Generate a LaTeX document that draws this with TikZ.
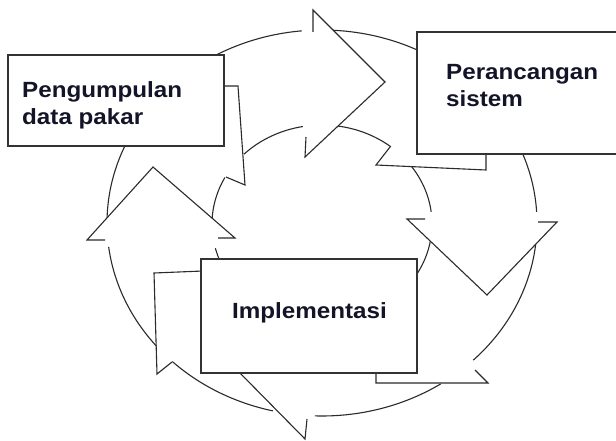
\documentclass[tikz,border=0pt]{standalone}
\usepackage{fontspec}
\newfontfamily\labfont[FakeStretch=1.1]{Liberation Sans}
\definecolor{linec}{HTML}{2B2B2B}
\definecolor{boxc}{HTML}{333333}
\definecolor{txtc}{HTML}{141428}
\tikzset{
  ring/.style={draw=linec, line width=1.1pt},
  boxs/.style={draw=boxc, line width=1.6pt, fill=white, inner sep=0pt, outer sep=0pt, anchor=north west},
  lab/.style={anchor=base west, inner sep=0pt, font=\labfont\bfseries\fontsize{22}{26}\selectfont, text=txtc},
}
\newcommand\oarc[2]{\draw[ring] plot[domain=#1:#2, samples=40] ({322+215*cos(\x)},{223+193*sin(\x)});}
\newcommand\iarc[2]{\draw[ring] plot[domain=#1:#2, samples=40] ({322+110*cos(\x)},{224+99*sin(\x)});}
\begin{document}
\begin{tikzpicture}[x=1pt,y=-1pt]
\useasboundingbox (0,0) rectangle (616,441);
\fill[white] (0,0) rectangle (616,441);
% outer ring arcs
\oarc{-120}{-95.4}
\oarc{-90}{-60}
\oarc{-25}{-3.3}
\oarc{3}{45.3}
\oarc{56.5}{91.9}
\oarc{103.2}{134.1}
\oarc{140.3}{172.9}
\oarc{178}{206}
% inner ring arcs
\iarc{-135.1}{-100}
\iarc{-85}{-51.2}
\iarc{-35.7}{-7}
\iarc{5}{30}
\iarc{155}{165.8}
\iarc{178}{208}
% top arrowhead (pointing right)
\fill[white] (313,32)--(313,10)--(385,82)--(305,157)--(306,137)--cycle;
\draw[ring] (313,32)--(313,10)--(385,82)--(305,157)--(306,137);
% right arrowhead (pointing down)
\fill[white] (425,219)--(407,219)--(487,295)--(557,222)--(538,222)--cycle;
\draw[ring] (425,219)--(407,219)--(487,295)--(557,222)--(538,222);
% left arrowhead (pointing up)
\fill[white] (105,240)--(87,240)--(153,167)--(235,238)--(218,238)--cycle;
\draw[ring] (105,240)--(87,240)--(153,167)--(235,238)--(218,238);
% bottom arrow piece
\draw[ring] (238,371)--(305,439)--(307,419);
% box tabs
\draw[ring] (222,86)--(238,86)--(245,185)--(226,177);
\draw[ring] (486,152)--(486,170)--(376,165)--(390,147);
\draw[ring] (203,271)--(154,273)--(157,374)--(172,362);
\draw[ring] (376,371)--(376,383)--(488,383)--(475,370);
% boxes
\node[boxs, minimum width=216pt, minimum height=91pt] (box1) at (8,55) {};
\node[boxs, minimum width=205pt, minimum height=122pt] (box2) at (417,32) {};
\node[boxs, minimum width=216pt, minimum height=114pt] (box3) at (201,259) {};
% labels
\node[lab] (t1a) at (22,98) {Pengumpulan};
\node[lab] (t1b) at (22,125) {data pakar};
\node[lab] (t2a) at (446,80) {Perancangan};
\node[lab] (t2b) at (446,107) {sistem};
\node[lab] (t3) at (232,318) {Implementasi};
\end{tikzpicture}
\end{document}
